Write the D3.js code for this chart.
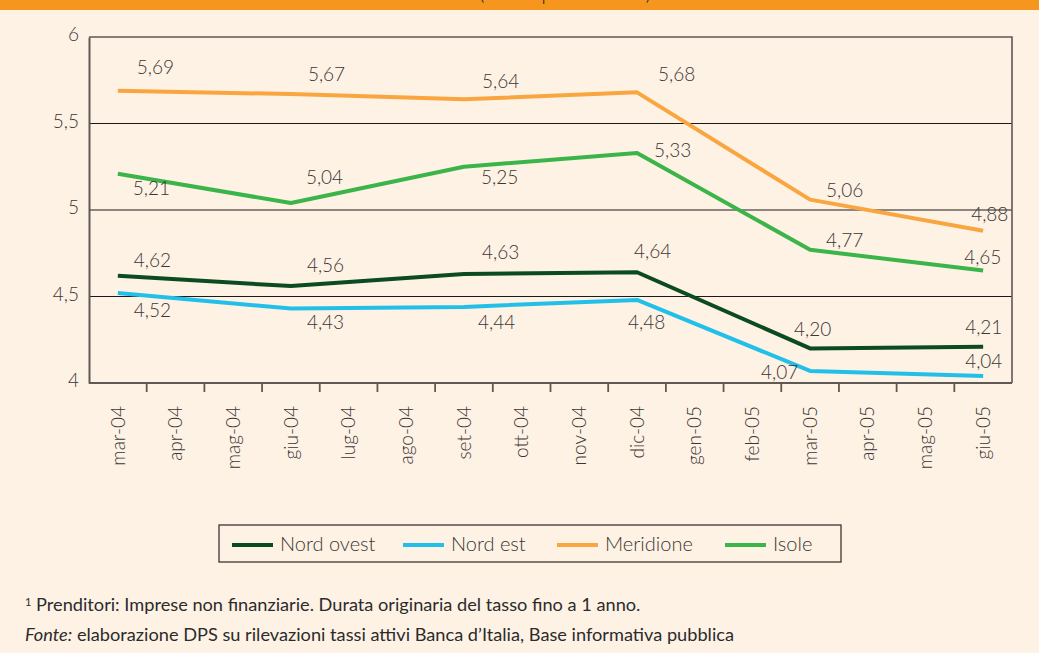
<!DOCTYPE html>
<html>
<head>
<meta charset="utf-8">
<script src="https://cdn.jsdelivr.net/npm/d3@7"></script>
<style>
  html, body { margin: 0; padding: 0; background: #fef2e5; }
  svg { display: block; font-family: Lato, "Open Sans", sans-serif; font-weight: 300; }
</style>
</head>
<body>
<svg id="chart" width="1039" height="653"></svg>
<script>
// months on the x axis
const months = ['mar-04', 'apr-04', 'mag-04', 'giu-04', 'lug-04', 'ago-04', 'set-04', 'ott-04',
    'nov-04', 'dic-04', 'gen-05', 'feb-05', 'mar-05', 'apr-05', 'mag-05', 'giu-05'];
// months with a value (quarterly)
const obsMonths = ['mar-04', 'giu-04', 'set-04', 'dic-04', 'mar-05', 'giu-05'];

const nordOvest = [4.62, 4.56, 4.63, 4.64, 4.20, 4.21];
const nordEst   = [4.52, 4.43, 4.44, 4.48, 4.07, 4.04];
const meridione = [5.69, 5.67, 5.64, 5.68, 5.06, 4.88];
const isole     = [5.21, 5.04, 5.25, 5.33, 4.77, 4.65];

const seriesNames = ['Nord ovest', 'Nord est', 'Meridione', 'Isole'];
const yTicks = [4, 4.5, 5, 5.5, 6];

const colors = {
    'Nord ovest': '#0b4b1f',
    'Nord est': '#22c0e8',
    'Meridione': '#f9a641',
    'Isole': '#3bb54a'
};

// where each value label sits relative to its point (dx to left edge, dy to middle)
const labelOffsets = {
    'Nord ovest': [[16, -15], [16, -21], [18, -22], [-3, -21], [-16, -19], [-18, -19]],
    'Nord est':   [[16, 17], [16, 14], [14, 15], [-9, 22], [-49, 1], [-18, -15]],
    'Meridione':  [[19, -23], [17, -20], [18, -18], [21, -18], [16, -9], [-12, -16]],
    'Isole':      [[15, 15], [15, -26], [17, 11], [17, -3], [16, -9], [-19, -13]]
};

const seriesValues = {
    'Nord ovest': nordOvest,
    'Nord est': nordEst,
    'Meridione': meridione,
    'Isole': isole
};

const svg = d3.select('#chart');
const fmt = v => String(v).replace('.', ',');
const fmt2 = v => v.toFixed(2).replace('.', ',');

// orange header strip; only the bottom of the subtitle shows in the crop
svg.append('rect')
    .attr('x', 0).attr('y', 0)
    .attr('width', 1039).attr('height', 10)
    .attr('fill', '#f7961f');
svg.append('clipPath').attr('id', 'hdr')
    .append('rect').attr('x', 0).attr('y', 0).attr('width', 1039).attr('height', 10);
svg.append('text')
    .attr('clip-path', 'url(#hdr)')
    .attr('x', 565).attr('y', -0.5)
    .attr('text-anchor', 'middle')
    .attr('font-size', 22)
    .attr('fill', '#2b2b2b')
    .text('(valori percentuali)');

const margin = { top: 37, right: 27, bottom: 270, left: 89 };
const width = 1039;
const height = 653;

const x = d3.scaleBand()
    .domain(months)
    .range([margin.left, width - margin.right]);

const y = d3.scaleLinear()
    .domain([4, 6])
    .range([height - margin.bottom, margin.top]);

const plotBottom = y(4);
const plotTop = y(6);

// grid lines
svg.append('g')
    .selectAll('line')
    .data(yTicks.filter(t => t > 4 && t < 6))
    .enter()
    .append('line')
    .attr('x1', margin.left).attr('x2', width - margin.right)
    .attr('y1', d => y(d)).attr('y2', d => y(d))
    .attr('stroke', '#1a1a1a')
    .attr('stroke-width', 1.2);

// frame: top and right border
svg.append('path')
    .attr('d', `M${margin.left},${plotTop}H${width - margin.right}V${plotBottom}`)
    .attr('fill', 'none')
    .attr('stroke', '#5f5955')
    .attr('stroke-width', 1.6);

// y axis
const yAxis = svg.append('g')
    .attr('transform', `translate(${margin.left},0)`)
    .call(d3.axisLeft(y).tickValues(yTicks).tickFormat(fmt).tickSize(0).tickPadding(10));
yAxis.select('.domain').attr('stroke', '#5f5955').attr('stroke-width', 2);
yAxis.selectAll('text')
    .attr('font-size', 19)
    .attr('font-family', 'Lato, sans-serif')
    .attr('font-weight', 300)
    .attr('fill', '#3a3634')
    .attr('dy', '0.2em');

// x axis: ticks between months
const xAxis = svg.append('g')
    .attr('transform', `translate(0,${plotBottom})`);
xAxis.append('line')
    .attr('x1', margin.left).attr('x2', width - margin.right)
    .attr('y1', 0).attr('y2', 0)
    .attr('stroke', '#5f5955').attr('stroke-width', 2);
xAxis.selectAll('line.tick')
    .data(months.slice(1))
    .enter()
    .append('line')
    .attr('class', 'tick')
    .attr('x1', d => x(d)).attr('x2', d => x(d))
    .attr('y1', 0).attr('y2', 9)
    .attr('stroke', '#5f5955').attr('stroke-width', 1.8);
xAxis.selectAll('text')
    .data(months)
    .enter()
    .append('text')
    .attr('transform', d => `translate(${x(d) + x.bandwidth() / 2},23) rotate(-90)`)
    .attr('text-anchor', 'end')
    .attr('dy', '0.35em')
    .attr('font-size', 19)
    .attr('fill', '#3a3634')
    .text(d => d);

// lines
const line = d3.line()
    .x(d => x(d.month) + x.bandwidth() / 2)
    .y(d => y(d.value));

seriesNames.forEach(name => {
    const pts = obsMonths.map((m, i) => ({ month: m, value: seriesValues[name][i] }));
    svg.append('path')
        .datum(pts)
        .attr('d', line)
        .attr('fill', 'none')
        .attr('stroke', colors[name])
        .attr('stroke-width', 4)
        .attr('stroke-linejoin', 'round');
});

// value labels
seriesNames.forEach(name => {
    obsMonths.forEach((m, i) => {
        const v = seriesValues[name][i];
        const off = labelOffsets[name][i];
        svg.append('text')
            .attr('x', x(m) + x.bandwidth() / 2 + off[0])
            .attr('y', y(v) + off[1])
            .attr('dy', '0.35em')
            .attr('font-size', 19)
            .attr('fill', '#3a3634')
            .text(fmt2(v));
    });
});

// legend
const legend = svg.append('g');
legend.append('rect')
    .attr('x', 219).attr('y', 525)
    .attr('width', 622).attr('height', 37)
    .attr('fill', 'none')
    .attr('stroke', '#3a3634')
    .attr('stroke-width', 1.3);
const legendX = [232, 403, 557, 725];
seriesNames.forEach((name, i) => {
    legend.append('line')
        .attr('x1', legendX[i]).attr('x2', legendX[i] + 41)
        .attr('y1', 545).attr('y2', 545)
        .attr('stroke', colors[name])
        .attr('stroke-width', 4);
    legend.append('text')
        .attr('x', legendX[i] + 48)
        .attr('y', 544)
        .attr('dy', '0.35em')
        .attr('font-size', 20)
        .attr('fill', '#3a3634')
        .text(name);
});

// footnotes
const note1 = svg.append('text')
    .attr('x', 25).attr('y', 611)
    .attr('font-size', 18.2)
    .attr('font-weight', 400)
    .attr('fill', '#2b2b2b');
note1.append('tspan').attr('font-size', 11).attr('dy', -5).text('1');
note1.append('tspan').attr('dy', 5).text(' Prenditori: Imprese non finanziarie. Durata originaria del tasso fino a 1 anno.');

const note2 = svg.append('text')
    .attr('x', 25).attr('y', 641)
    .attr('font-size', 18.2)
    .attr('font-weight', 400)
    .attr('fill', '#2b2b2b');
note2.append('tspan').attr('font-style', 'italic').text('Fonte:');
note2.append('tspan').text(' elaborazione DPS su rilevazioni tassi attivi Banca d\u2019Italia, Base informativa pubblica');
</script>
</body>
</html>
